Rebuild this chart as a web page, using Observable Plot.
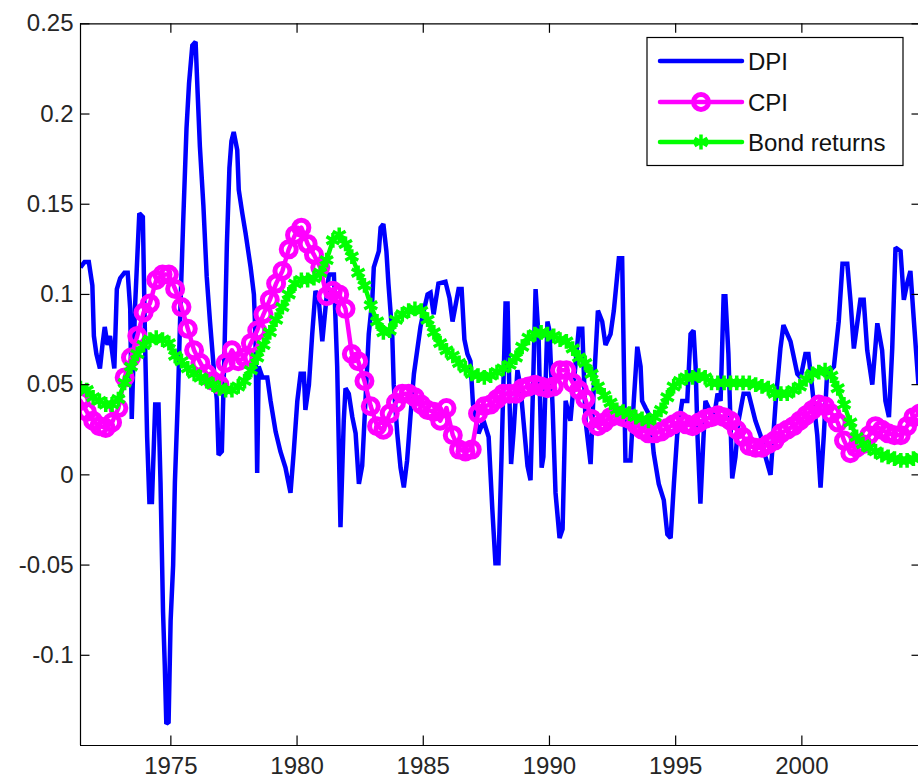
<!DOCTYPE html>
<html>
<head>
<meta charset="utf-8">
<script src="https://cdn.jsdelivr.net/npm/d3@7"></script>
<script src="https://cdn.jsdelivr.net/npm/@observablehq/plot@0.6"></script>
<style>
  html, body { margin: 0; padding: 0; background: #fff; overflow: hidden; }
  #chart svg { display: block; }
</style>
</head>
<body>
<div id="chart"></div>
<script>
// ---- Data ----
const xDomain = [1971.42, 2004.74];
const yDomain = [-0.15, 0.25];

const xTickValues = [1975, 1980, 1985, 1990, 1995, 2000];
const xTickLabels = ["1975", "1980", "1985", "1990", "1995", "2000"];
const yTickValues = [0.25, 0.2, 0.15, 0.1, 0.05, 0, -0.05, -0.1];
const yTickLabels = ["0.25", "0.2", "0.15", "0.1", "0.05", "0", "-0.05", "-0.1"];

const seriesNames = ["DPI", "CPI", "Bond returns"];
const seriesColors = ["#0000ff", "#ff00ff", "#00ff00"];

// DPI: vertices of the blue line
const dpiYears = [
  1971.42,1971.58,1971.75,1971.89,1971.95,1972.05,1972.19,1972.29,1972.38,1972.49,
  1972.59,1972.76,1972.86,1972.99,1973.16,1973.29,1973.39,1973.45,1973.58,1973.75,
  1973.89,1973.98,1974.06,1974.15,1974.25,1974.38,1974.51,1974.59,1974.69,1974.76,
  1974.82,1974.91,1974.99,1975.09,1975.16,1975.29,1975.39,1975.49,1975.62,1975.72,
  1975.85,1975.98,1976.06,1976.15,1976.29,1976.42,1976.55,1976.73,1976.82,1976.89,
  1977.02,1977.13,1977.22,1977.32,1977.40,1977.49,1977.63,1977.69,1977.83,1977.96,
  1978.16,1978.29,1978.35,1978.42,1978.48,1978.63,1978.82,1978.95,1979.15,1979.34,
  1979.54,1979.74,1979.87,1980.01,1980.14,1980.27,1980.33,1980.47,1980.60,1980.73,
  1980.86,1981.00,1981.13,1981.26,1981.46,1981.59,1981.72,1981.85,1981.92,1982.05,
  1982.19,1982.32,1982.45,1982.58,1982.71,1982.84,1982.98,1983.04,1983.24,1983.31,
  1983.42,1983.54,1983.62,1983.77,1983.83,1983.97,1984.10,1984.23,1984.36,1984.49,
  1984.63,1984.76,1984.89,1985.02,1985.17,1985.29,1985.41,1985.60,1985.88,1986.04,
  1986.16,1986.40,1986.52,1986.63,1986.75,1986.87,1986.97,1987.19,1987.39,1987.59,
  1987.74,1987.86,1987.98,1988.10,1988.26,1988.34,1988.42,1988.48,1988.58,1988.73,
  1988.85,1988.97,1989.13,1989.25,1989.37,1989.45,1989.57,1989.69,1989.76,1989.92,
  1990.00,1990.12,1990.24,1990.40,1990.52,1990.64,1990.83,1991.16,1991.30,1991.43,
  1991.63,1991.76,1991.92,1992.09,1992.22,1992.42,1992.55,1992.75,1992.88,1992.95,
  1993.01,1993.21,1993.34,1993.48,1993.61,1993.67,1993.81,1994.00,1994.13,1994.33,
  1994.53,1994.67,1994.80,1994.93,1995.06,1995.26,1995.46,1995.59,1995.71,1995.79,
  1995.87,1995.98,1996.10,1996.18,1996.38,1996.50,1996.66,1996.78,1996.90,1996.97,
  1997.09,1997.24,1997.37,1997.49,1997.69,1997.89,1998.16,1998.36,1998.56,1998.76,
  1998.96,1999.15,1999.27,1999.55,1999.82,1999.95,2000.14,2000.26,2000.41,2000.61,
  2000.74,2000.87,2001.00,2001.27,2001.46,2001.61,2001.80,2001.93,2002.06,2002.32,
  2002.45,2002.59,2002.79,2002.99,2003.18,2003.31,2003.45,2003.58,2003.71,2003.91,
  2004.04,2004.17,2004.30,2004.44,2004.62
];
const dpiValues = [
  0.115,0.118,0.118,0.105,0.077,0.067,0.059,0.072,0.082,0.072,
  0.077,0.059,0.103,0.109,0.112,0.112,0.092,0.031,0.093,0.145,
  0.143,0.072,0.021,-0.015,-0.015,0.039,0.039,-0.004,-0.076,-0.106,
  -0.138,-0.137,-0.081,-0.050,-0.004,0.047,0.098,0.141,0.192,0.217,
  0.238,0.240,0.212,0.182,0.149,0.110,0.085,0.054,0.042,0.011,
  0.013,0.072,0.128,0.170,0.185,0.190,0.180,0.158,0.145,0.134,
  0.115,0.100,0.078,0.001,0.060,0.054,0.054,0.041,0.024,0.013,
  0.004,-0.010,0.013,0.041,0.056,0.056,0.036,0.050,0.078,0.102,
  0.097,0.074,0.093,0.111,0.111,0.060,-0.029,0.030,0.048,0.045,
  0.032,0.023,-0.005,0.005,0.041,0.078,0.097,0.115,0.124,0.137,
  0.139,0.124,0.106,0.078,0.050,0.023,0.004,-0.007,0.008,0.032,
  0.056,0.069,0.082,0.091,0.100,0.101,0.089,0.106,0.107,0.098,
  0.085,0.103,0.103,0.075,0.067,0.063,0.039,0.023,0.030,0.021,
  -0.020,-0.049,-0.049,0.010,0.095,0.095,0.040,0.006,0.024,0.058,
  0.049,0.030,0.005,-0.003,0.060,0.103,0.076,0.004,0.010,0.085,
  0.080,0.039,-0.010,-0.035,-0.030,0.041,0.030,0.081,0.081,0.030,
  0.006,0.050,0.091,0.085,0.072,0.078,0.091,0.120,0.120,0.060,
  0.008,0.008,0.041,0.071,0.060,0.041,0.037,0.032,0.012,-0.005,
  -0.014,-0.033,-0.035,-0.005,0.022,0.041,0.041,0.078,0.080,0.060,
  0.020,-0.016,0.020,0.041,0.035,0.030,0.045,0.041,0.099,0.099,
  0.067,-0.002,0.010,0.030,0.045,0.045,0.030,0.022,0.010,0.000,
  0.040,0.070,0.083,0.074,0.056,0.054,0.067,0.067,0.048,0.022,
  -0.007,0.022,0.056,0.060,0.085,0.117,0.117,0.096,0.070,0.097,
  0.097,0.069,0.050,0.084,0.069,0.041,0.032,0.070,0.126,0.124,
  0.097,0.106,0.113,0.085,0.050
];

// CPI and bond returns: one value per quarter, starting at the left edge
const firstQuarter = 1971.42;
const cpiValues = [
  0.041,0.035,0.030,0.027,0.026,0.029,0.037,0.054,0.065,0.077,
  0.090,0.095,0.108,0.111,0.111,0.103,0.093,0.081,0.069,0.062,
  0.056,0.052,0.050,0.062,0.069,0.063,0.065,0.073,0.080,0.089,
  0.097,0.106,0.113,0.125,0.133,0.137,0.128,0.122,0.115,0.099,
  0.102,0.100,0.092,0.067,0.063,0.052,0.038,0.027,0.025,0.034,
  0.040,0.045,0.045,0.043,0.039,0.036,0.035,0.030,0.037,0.022,
  0.014,0.013,0.014,0.034,0.038,0.039,0.042,0.045,0.045,0.045,
  0.048,0.049,0.050,0.049,0.048,0.049,0.058,0.058,0.051,0.047,
  0.042,0.031,0.027,0.029,0.032,0.033,0.032,0.031,0.028,0.025,
  0.023,0.023,0.024,0.026,0.028,0.030,0.028,0.027,0.029,0.031,
  0.032,0.033,0.032,0.030,0.025,0.021,0.016,0.015,0.015,0.017,
  0.019,0.023,0.025,0.027,0.030,0.033,0.036,0.039,0.038,0.034,
  0.029,0.019,0.012,0.015,0.017,0.022,0.027,0.025,0.023,0.022,
  0.022,0.027,0.032,0.034
];
const bondValues = [
  0.048,0.047,0.043,0.041,0.039,0.039,0.042,0.051,0.060,0.067,
  0.072,0.075,0.076,0.075,0.073,0.066,0.063,0.059,0.056,0.054,
  0.052,0.050,0.048,0.047,0.047,0.049,0.052,0.058,0.065,0.072,
  0.079,0.086,0.093,0.100,0.106,0.108,0.108,0.109,0.112,0.119,
  0.130,0.133,0.128,0.121,0.112,0.105,0.094,0.085,0.079,0.080,
  0.086,0.089,0.091,0.092,0.091,0.086,0.079,0.073,0.069,0.066,
  0.062,0.059,0.056,0.055,0.054,0.055,0.057,0.059,0.061,0.065,
  0.071,0.076,0.078,0.079,0.078,0.077,0.075,0.074,0.070,0.065,
  0.062,0.056,0.049,0.044,0.040,0.036,0.035,0.034,0.032,0.031,
  0.030,0.032,0.036,0.043,0.049,0.052,0.054,0.054,0.055,0.054,
  0.051,0.051,0.051,0.051,0.051,0.051,0.051,0.050,0.049,0.048,
  0.045,0.045,0.045,0.047,0.049,0.053,0.056,0.057,0.058,0.055,
  0.048,0.039,0.029,0.021,0.017,0.015,0.013,0.011,0.010,0.009,
  0.008,0.008,0.009,0.010
];

// ---- Build tables ----
const dpi = dpiYears.map((t, i) => ({t, v: dpiValues[i]}));
const cpi = cpiValues.map((v, i) => ({t: firstQuarter + 0.25 * i, v}));
const bond = bondValues.map((v, i) => ({t: firstQuarter + 0.25 * i, v}));

// ---- Layout ----
const W = 918, H = 781;
const padL = 80, padR = 921, padT = 23.3, padB = 745;
const tickPx = 9.5;
const pxPerX = (padR - padL) / (xDomain[1] - xDomain[0]);
const pxPerY = (padB - padT) / (yDomain[1] - yDomain[0]);
const tx = tickPx / pxPerX, ty = tickPx / pxPerY;
const font = "'Liberation Sans', Arial, Helvetica, sans-serif";
const textColor = "#262626";

const chart = Plot.plot({
  width: W, height: H,
  marginLeft: padL, marginRight: W - padR, marginTop: padT, marginBottom: H - padB,
  x: {domain: xDomain, range: [padL, padR], axis: null},
  y: {domain: yDomain, range: [padB, padT], axis: null},
  style: {fontFamily: font, background: "#fff", overflow: "hidden"},
  marks: [
    Plot.line(dpi, {x: "t", y: "v", stroke: seriesColors[0], strokeWidth: 4.5, strokeLinejoin: "miter", strokeMiterlimit: 2, strokeLinecap: "butt", clip: true}),
    Plot.line(cpi, {x: "t", y: "v", stroke: seriesColors[1], strokeWidth: 4.5, clip: true}),
    Plot.dot(cpi, {x: "t", y: "v", symbol: "circle", r: 7.5, stroke: seriesColors[1], strokeWidth: 5, fill: "none", clip: true}),
    Plot.line(bond, {x: "t", y: "v", stroke: seriesColors[2], strokeWidth: 4.5, clip: true}),
    Plot.dot(bond, {x: "t", y: "v", symbol: "asterisk", r: 7, stroke: seriesColors[2], strokeWidth: 3.5, clip: true}),
    // frame
    Plot.ruleY([yDomain[0], yDomain[1]], {x1: xDomain[0], x2: xDomain[1], stroke: "#000", strokeWidth: 1.2}),
    Plot.ruleX([xDomain[0], xDomain[1]], {y1: yDomain[0], y2: yDomain[1], stroke: "#000", strokeWidth: 1.2}),
    // inward ticks
    Plot.ruleX(xTickValues, {y1: yDomain[0], y2: yDomain[0] + ty, stroke: "#000", strokeWidth: 1.2}),
    Plot.ruleX(xTickValues, {y1: yDomain[1], y2: yDomain[1] - ty, stroke: "#000", strokeWidth: 1.2}),
    Plot.ruleY(yTickValues, {x1: xDomain[0], x2: xDomain[0] + tx, stroke: "#000", strokeWidth: 1.2}),
    Plot.ruleY(yTickValues, {x1: xDomain[1], x2: xDomain[1] - tx, stroke: "#000", strokeWidth: 1.2}),
    // tick labels
    Plot.text(xTickValues, {x: d => d, y: yDomain[0], dy: 21, text: (d, i) => xTickLabels[i], fontSize: 24, fill: textColor}),
    Plot.text(yTickValues, {x: xDomain[0], y: d => d, dx: -7, textAnchor: "end", text: (d, i) => yTickLabels[i], fontSize: 24, fill: textColor})
  ]
});

document.getElementById("chart").appendChild(chart);

// ---- Legend (inside the axes, top right) ----
const svg = d3.select(chart);
const lg = svg.append("g").attr("font-family", font).attr("font-size", 24).attr("text-anchor", "start");
lg.append("rect").attr("x", 647).attr("y", 37.5).attr("width", 256).attr("height", 128)
  .attr("fill", "#fff").attr("stroke", "#000").attr("stroke-width", 1.2);
const rowsY = [61, 102, 142];
seriesNames.forEach((name, i) => {
  const yy = rowsY[i];
  lg.append("line").attr("x1", 660).attr("x2", 742).attr("y1", yy).attr("y2", yy)
    .attr("stroke", seriesColors[i]).attr("stroke-width", 4.5).attr("stroke-linecap", "round");
  if (i === 1) {
    lg.append("circle").attr("cx", 701).attr("cy", yy).attr("r", 7.5)
      .attr("fill", "none").attr("stroke", seriesColors[i]).attr("stroke-width", 5);
  }
  if (i === 2) {
    lg.append("path").attr("transform", `translate(701,${yy})`)
      .attr("d", d3.symbol(d3.symbolAsterisk, Math.PI * 49)())
      .attr("fill", "none").attr("stroke", seriesColors[i]).attr("stroke-width", 3.5);
  }
  lg.append("text").attr("x", 748).attr("y", yy).attr("dy", "0.36em")
    .attr("text-anchor", "start").attr("fill", "#111").text(name);
});
</script>
</body>
</html>
